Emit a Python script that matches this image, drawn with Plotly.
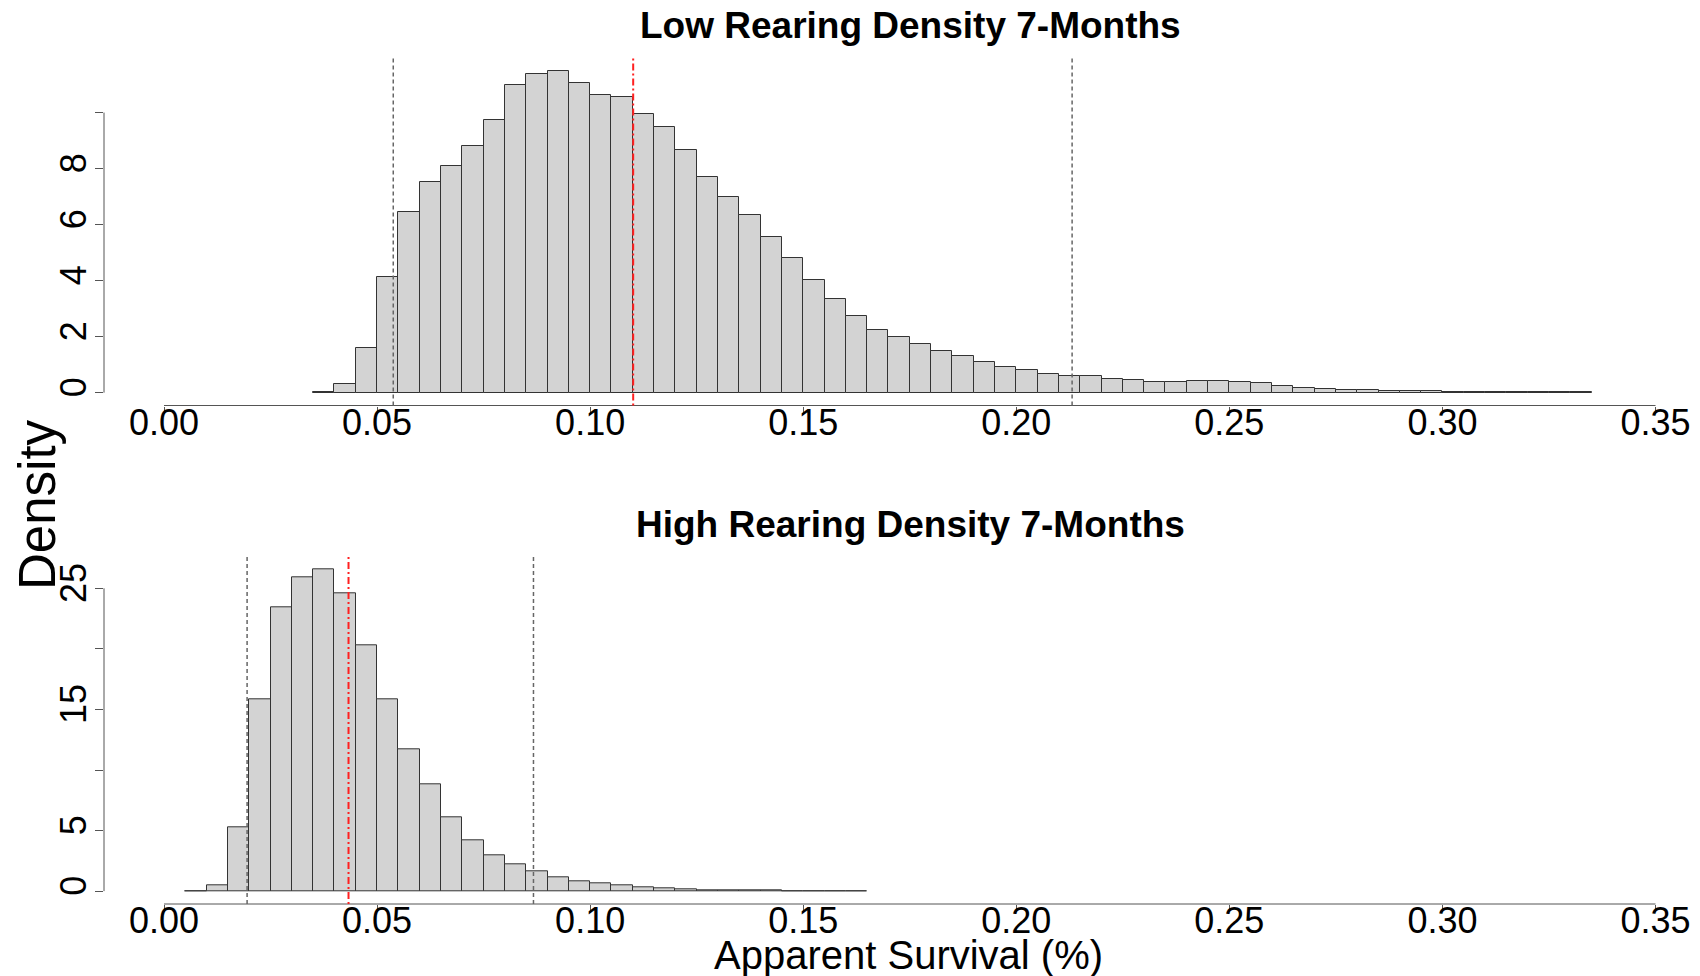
import plotly.graph_objects as go

# ---- Histogram data (density per 0.005-wide bin) ----
BIN_WIDTH = 0.005

low_bin_start = 0.035
low_density = [
    0.02, 0.32, 1.60, 4.13, 6.46, 7.51, 8.08, 8.80, 9.74, 11.00,
    11.37, 11.49, 11.07, 10.62, 10.57, 9.95, 9.47, 8.68, 7.71, 6.99,
    6.36, 5.56, 4.80, 4.04, 3.33, 2.72, 2.23, 1.98, 1.73, 1.48,
    1.30, 1.10, 0.91, 0.80, 0.67, 0.61, 0.61, 0.50, 0.46, 0.39,
    0.38, 0.42, 0.42, 0.37, 0.33, 0.24, 0.18, 0.14, 0.11, 0.09,
    0.07, 0.055, 0.05, 0.04, 0.035, 0.03, 0.025, 0.02, 0.01, 0.005,
]

high_bin_start = 0.005
high_density = [
    0.02, 0.50, 5.28, 15.80, 23.45, 25.92, 26.58, 24.57, 20.27, 15.82,
    11.67, 8.84, 6.08, 4.18, 2.92, 2.20, 1.63, 1.14, 0.80, 0.63,
    0.47, 0.33, 0.22, 0.14, 0.08, 0.06, 0.04, 0.03, 0.02, 0.01,
    0.01, 0.005,
]

# Interval bounds (dashed grey) and central estimate (red dot-dash)
low_lower, low_center, low_upper = 0.0538, 0.1101, 0.2131
high_lower, high_center, high_upper = 0.0195, 0.0433, 0.0867

titles = ["Low Rearing Density 7-Months", "High Rearing Density 7-Months"]
x_title = "Apparent Survival (%)"
y_title = "Density"

x_tickvals = [0.00, 0.05, 0.10, 0.15, 0.20, 0.25, 0.30, 0.35]
x_ticktext = ["0.00", "0.05", "0.10", "0.15", "0.20", "0.25", "0.30", "0.35"]
low_y_tickvals = [0, 2, 4, 6, 8, 10]
low_y_ticktext = ["0", "2", "4", "6", "8", ""]
high_y_tickvals = [0, 5, 10, 15, 20, 25]
high_y_ticktext = ["0", "5", "", "15", "", "25"]

# ---- Layout geometry (pixels) ----
W, H = 1700, 976
FONT = "Liberation Sans, Arial, Helvetica, sans-serif"
AXIS_COL = "#555555"
left_px = 104
x0_px, x35_px = 164.0, 1655.5
px_per_unit = (x35_px - x0_px) / 0.35
x_range = [(left_px - x0_px) / px_per_unit, (W - x0_px) / px_per_unit]

top_region = (58.0, 405.5)      # top / bottom pixel rows of upper plot region
bot_region = (556.3, 904.0)


def ydom(region):
    return [1 - region[1] / H, 1 - region[0] / H]


def yr(vals):
    m = max(vals)
    return [-0.04 * m, 1.04 * m]


def bins(start, vals):
    return [round(start + i * BIN_WIDTH, 6) for i in range(len(vals))]


fig = go.Figure()

for vals, start, xa, ya in [
    (low_density, low_bin_start, "x", "y"),
    (high_density, high_bin_start, "x2", "y2"),
]:
    fig.add_trace(go.Bar(
        x=bins(start, vals), y=vals, width=BIN_WIDTH, offset=0,
        marker=dict(color="#d3d3d3", line=dict(color="#333333", width=1)),
        xaxis=xa, yaxis=ya, showlegend=False, hoverinfo="x+y",
    ))

common_x = dict(
    domain=[left_px / W, 1.0], range=x_range, tickvals=x_tickvals, ticktext=x_ticktext,
    ticks="outside", ticklen=7, tickcolor=AXIS_COL, tickwidth=1, ticklabelstandoff=-22,
    showline=False, showgrid=False, zeroline=False, automargin=False,
    tickfont=dict(size=36, color="black", family=FONT),
)
common_y = dict(
    ticks="outside", ticklen=8, tickcolor=AXIS_COL, tickwidth=1, tickangle=-90,
    ticklabelstandoff=-5,
    showline=False, showgrid=False, zeroline=False, automargin=False,
    tickfont=dict(size=36, color="black", family=FONT),
)

fig.update_layout(
    width=W, height=H, margin=dict(l=0, r=0, t=0, b=0),
    paper_bgcolor="white", plot_bgcolor="white", bargap=0,
    font=dict(family=FONT, color="black"),
    xaxis=dict(anchor="y", **common_x),
    yaxis=dict(anchor="x", domain=ydom(top_region), range=yr(low_density),
               tickvals=low_y_tickvals, ticktext=low_y_ticktext, **common_y),
    xaxis2=dict(anchor="y2", **common_x),
    yaxis2=dict(anchor="x2", domain=ydom(bot_region), range=yr(high_density),
                tickvals=high_y_tickvals, ticktext=high_y_ticktext, **common_y),
)

shapes = []
# axis lines drawn only over the ticked span, as in base graphics
for xa, ya, region, ytop in [("x", "y", top_region, low_y_tickvals[-1]),
                              ("x2", "y2", bot_region, high_y_tickvals[-1])]:
    shapes.append(dict(type="line", xref=xa, yref="paper",
                       x0=x_tickvals[0], x1=x_tickvals[-1],
                       y0=1 - region[1] / H, y1=1 - region[1] / H,
                       line=dict(color=AXIS_COL, width=1)))
    shapes.append(dict(type="line", xref="paper", yref=ya,
                       x0=left_px / W, x1=left_px / W, y0=0, y1=ytop,
                       line=dict(color=AXIS_COL, width=1)))

# reference lines
for xa, ya, lo, mid, hi in [("x", "y", low_lower, low_center, low_upper),
                             ("x2", "y2", high_lower, high_center, high_upper)]:
    for v in (lo, hi):
        shapes.append(dict(type="line", xref=xa, yref=ya + " domain", x0=v, x1=v, y0=0, y1=1,
                           line=dict(color="#666666", width=1.5, dash="4px,3px")))
    shapes.append(dict(type="line", xref=xa, yref=ya + " domain", x0=mid, x1=mid, y0=0, y1=1,
                       line=dict(color="#ff2020", width=2, dash="2px,3px,7px,3px")))
fig.update_layout(shapes=shapes)

center_x = 910 / W
annotations = [
    dict(text=f"<b>{titles[0]}</b>", x=center_x, y=1 - 25 / H, xref="paper", yref="paper",
         showarrow=False, xanchor="center", yanchor="middle", font=dict(size=37, family=FONT)),
    dict(text=f"<b>{titles[1]}</b>", x=center_x, y=1 - 524 / H, xref="paper", yref="paper",
         showarrow=False, xanchor="center", yanchor="middle", font=dict(size=37, family=FONT)),
    dict(text=y_title, x=37 / W, y=1 - 505 / H, xref="paper", yref="paper", textangle=-90,
         showarrow=False, xanchor="center", yanchor="middle", font=dict(size=51, family=FONT)),
    dict(text=x_title, x=909 / W, y=1 - 955 / H, xref="paper", yref="paper",
         showarrow=False, xanchor="center", yanchor="middle", font=dict(size=40, family=FONT)),
]
fig.update_layout(annotations=annotations)

fig.write_html("out.html")
